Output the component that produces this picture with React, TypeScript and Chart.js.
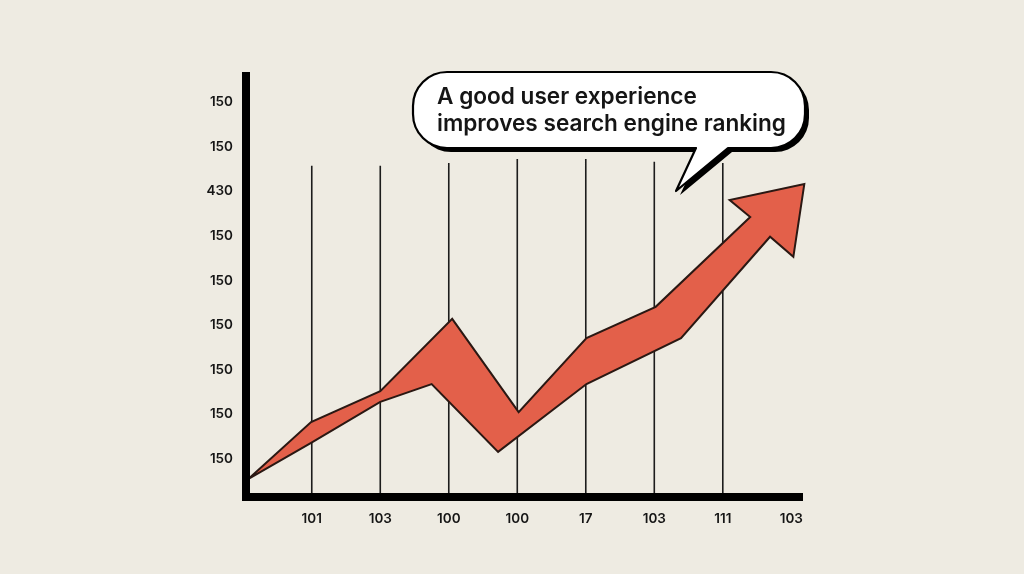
import React, { useEffect, useRef } from "react";
import { Chart, registerables } from "chart.js";

Chart.register(...registerables);

// ---- data ----
const yTickLabels = ["150", "150", "430", "150", "150", "150", "150", "150", "150"]; // top → bottom
const xTickLabels = ["101", "103", "100", "100", "17", "103", "111", "103"];

// vertical guide lines (x position, top value)
const guideX = [1, 2, 3, 4, 5, 6, 7];
const guideTop = [7.57, 7.57, 7.63, 7.72, 7.72, 7.66, 7.63];

// arrow outline: upper edge (left → right), head, lower edge (right → left)
const upperX = [0.07, 0.99, 2.0, 3.05, 4.02, 5.01, 6.02, 7.4];
const upperY = [0.55, 1.83, 2.52, 4.14, 2.05, 3.71, 4.41, 6.42];
const headX = [7.1, 8.19, 8.03, 7.69];
const headY = [6.8, 7.16, 5.53, 5.98];
const lowerX = [6.39, 5.01, 3.72, 2.75, 2.0, 0.99, 0.07];
const lowerY = [3.71, 2.68, 1.16, 2.68, 2.28, 1.36, 0.55];

const bubbleLines = ["A good user experience", "improves search engine ranking"];

const X_MIN = 0.04;
const X_MAX = 8.2;
const Y_MIN = 0.15;
const Y_MAX = 9.67;

const BG = "#EEEBE2";
const RED = "#E3604A";
const INK = "#151515";
const FONT = "Inter, 'Open Sans', sans-serif";

export default function App() {
  const ref = useRef<HTMLCanvasElement | null>(null);

  useEffect(() => {
    document.body.style.margin = "0";
    document.body.style.background = BG;
    const canvas = ref.current;
    if (!canvas) return;

    const arrowPts = [
      ...upperX.map((x, i) => ({ x, y: upperY[i] })),
      ...headX.map((x, i) => ({ x, y: headY[i] })),
      ...lowerX.map((x, i) => ({ x, y: lowerY[i] })),
    ];
    const guidePts: { x: number; y: number | null }[] = [];
    guideX.forEach((x, i) => {
      guidePts.push({ x, y: Y_MIN }, { x, y: guideTop[i] }, { x, y: null });
    });

    const bgPlugin = {
      id: "bg",
      beforeDraw(c: any) {
        const ctx = c.ctx;
        ctx.save();
        ctx.fillStyle = BG;
        ctx.fillRect(0, 0, c.width, c.height);
        ctx.restore();
      },
    };

    const axesPlugin = {
      id: "axesLines",
      afterDatasetsDraw(c: any) {
        const { ctx, chartArea } = c;
        const { left, top, bottom, right } = chartArea;
        ctx.save();
        ctx.fillStyle = "#000";
        ctx.fillRect(left - 4, top, 8, bottom - top);
        ctx.fillRect(left - 4, bottom - 4, right - 2 - (left - 4), 8);
        ctx.restore();
      },
    };

    const bubblePlugin = {
      id: "bubble",
      afterDraw(c: any) {
        const ctx = c.ctx as CanvasRenderingContext2D;
        const L = 413, T = 72, R = 805, B = 148, r = 34;
        const tailL = 696, tailR = 728, tipX = 676, tipY = 191;
        const path = (dx: number, dy: number) => {
          ctx.beginPath();
          ctx.moveTo(L + r + dx, T + dy);
          ctx.lineTo(R - r + dx, T + dy);
          ctx.arcTo(R + dx, T + dy, R + dx, T + r + dy, r);
          ctx.arcTo(R + dx, B + dy, R - r + dx, B + dy, r);
          ctx.lineTo(tailR + dx, B + dy);
          ctx.lineTo(tipX + dx, tipY + dy);
          ctx.lineTo(tailL + dx, B + dy);
          ctx.lineTo(L + r + dx, B + dy);
          ctx.arcTo(L + dx, B + dy, L + dx, B - r + dy, r);
          ctx.arcTo(L + dx, T + dy, L + r + dx, T + dy, r);
          ctx.closePath();
        };
        ctx.save();
        path(4, 4);
        ctx.fillStyle = "#000";
        ctx.fill();
        path(0, 0);
        ctx.fillStyle = "#FFFFFF";
        ctx.fill();
        ctx.lineWidth = 2.2;
        ctx.strokeStyle = "#000";
        ctx.lineJoin = "round";
        ctx.stroke();
        ctx.fillStyle = INK;
        ctx.font = `600 22.6px ${FONT}`;
        ctx.textBaseline = "alphabetic";
        ctx.textAlign = "left";
        ctx.fillText(bubbleLines[0], 437, 104);
        ctx.fillText(bubbleLines[1], 437, 131);
        ctx.restore();
      },
    };

    const tickFont = { family: FONT, size: 13.5, weight: "600" as any };

    const chart = new Chart(canvas, {
      type: "scatter",
      data: {
        datasets: [
          {
            data: arrowPts,
            showLine: true,
            fill: "shape",
            backgroundColor: RED,
            borderColor: "#2a1813",
            borderWidth: 2,
            pointRadius: 0,
            tension: 0,
            borderJoinStyle: "miter",
            clip: false as any,
          } as any,
          {
            data: guidePts,
            showLine: true,
            spanGaps: false,
            borderColor: "#1c1c1c",
            borderWidth: 1.6,
            pointRadius: 0,
            fill: false,
          } as any,
        ],
      },
      options: {
        responsive: false,
        animation: false,
        devicePixelRatio: 1,
        layout: { padding: { left: 0, top: 72, right: 219, bottom: 0 } },
        plugins: { legend: { display: false }, tooltip: { enabled: false } },
        scales: {
          x: {
            type: "linear",
            min: X_MIN,
            max: X_MAX,
            afterBuildTicks: (s: any) => {
              s.ticks = xTickLabels.map((_, i) => ({ value: i + 1 }));
            },
            afterFit: (s: any) => {
              s.height = 77;
            },
            ticks: {
              autoSkip: false,
              maxRotation: 0,
              padding: 14,
              color: INK,
              font: tickFont,
              callback: (v: any) => xTickLabels[Math.round(v) - 1] ?? "",
            },
            grid: { display: false, drawTicks: false },
            border: { display: false },
          },
          y: {
            type: "linear",
            min: Y_MIN,
            max: Y_MAX,
            afterBuildTicks: (s: any) => {
              s.ticks = yTickLabels.map((_, i) => ({ value: i + 1 }));
            },
            afterFit: (s: any) => {
              s.width = 246;
            },
            ticks: {
              autoSkip: false,
              padding: 13,
              color: INK,
              font: tickFont,
              callback: (v: any) => yTickLabels[9 - Math.round(v)] ?? "",
            },
            grid: { display: false, drawTicks: false },
            border: { display: false },
          },
        },
      },
      plugins: [bgPlugin, axesPlugin, bubblePlugin],
    });

    return () => chart.destroy();
  }, []);

  return (
    <div style={{ width: 1024, height: 574, background: BG }}>
      <canvas ref={ref} width={1024} height={574} style={{ display: "block", width: 1024, height: 574 }} />
    </div>
  );
}
